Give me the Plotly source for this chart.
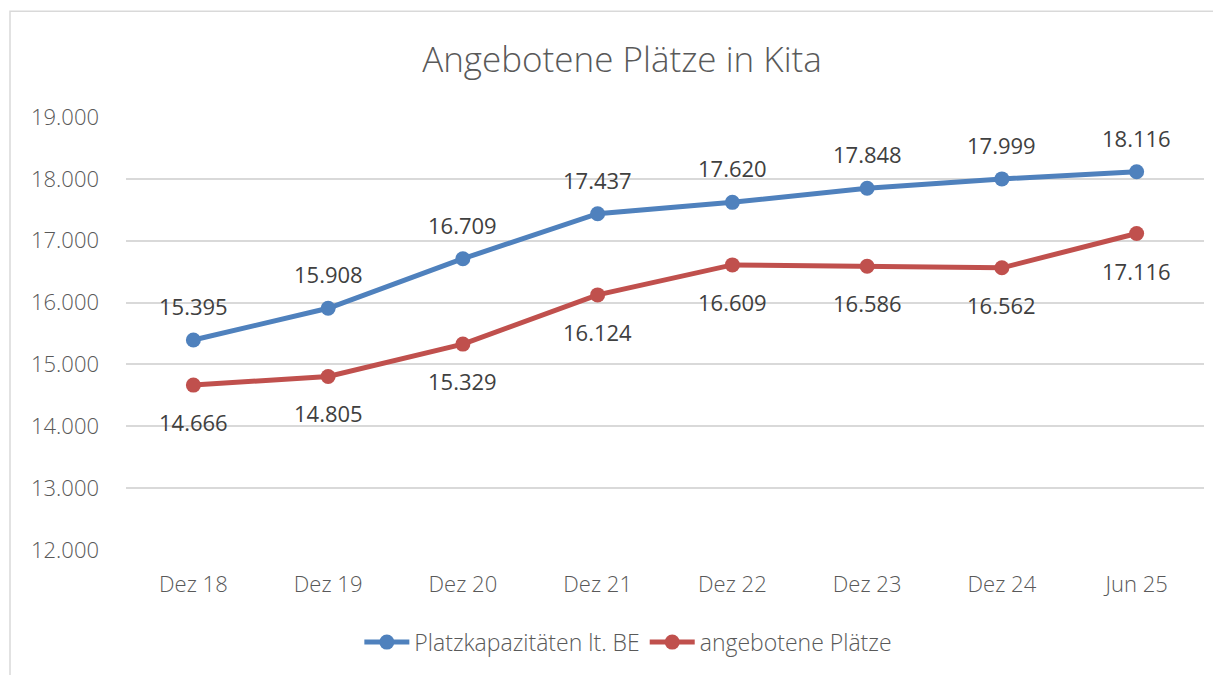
import plotly.graph_objects as go

categories = ["Dez 18", "Dez 19", "Dez 20", "Dez 21", "Dez 22", "Dez 23", "Dez 24", "Jun 25"]
kapazitaet = [15395, 15908, 16709, 17437, 17620, 17848, 17999, 18116]
angeboten = [14666, 14805, 15329, 16124, 16609, 16586, 16562, 17116]
y_ticks = [12000, 13000, 14000, 15000, 16000, 17000, 18000, 19000]

BLUE = "#4F81BD"
RED = "#C0504D"
TXT = "#595959"
LAB = "#404040"
FONT = "Open Sans, Lato, sans-serif"

W, H = 1213, 667          # page has an 8px body margin
L, T = 118, 109
PW, PH = 1078, 434

def fmt(v):
    return f"{v:,}".replace(",", ".")

fig = go.Figure()
fig.add_trace(go.Scatter(
    x=categories, y=kapazitaet, name="Platzkapazitäten lt. BE",
    mode="lines+markers", line=dict(color=BLUE, width=5),
    marker=dict(color=BLUE, size=15)))
fig.add_trace(go.Scatter(
    x=categories, y=angeboten, name="angebotene Plätze",
    mode="lines+markers", line=dict(color=RED, width=5),
    marker=dict(color=RED, size=15)))

lab_font = dict(size=22, color=LAB, family=FONT, weight=400)
annotations = []
for c, v in zip(categories, kapazitaet):
    annotations.append(dict(x=c, y=v, text=fmt(v), showarrow=False, yshift=34,
                            font=lab_font))
for c, v in zip(categories, angeboten):
    annotations.append(dict(x=c, y=v, text=fmt(v), showarrow=False, yshift=-37,
                            font=lab_font))

fig.update_layout(
    width=W, height=H,
    paper_bgcolor="white", plot_bgcolor="white",
    margin=dict(l=L, r=W - L - PW, t=T, b=H - T - PH),
    separators=",.",
    font=dict(family=FONT, color=TXT, size=22, weight=300),
    title=dict(text="Angebotene Plätze in Kita", x=(622 - 8) / W, xanchor="center",
               y=1 - 52 / H, yanchor="middle",
               font=dict(size=35, color=TXT, family=FONT, weight=300)),
    showlegend=True,
    legend=dict(orientation="h", x=0.466, xanchor="center", y=-0.21, yanchor="middle",
                font=dict(size=23, color=TXT, family=FONT, weight=300),
                itemwidth=45),
    annotations=annotations,
    shapes=[dict(type="rect", xref="paper", yref="paper",
                 x0=(2 - L) / PW, x1=1.1, y0=-0.5, y1=1 + (T - 3) / PH,
                 line=dict(color="#D9D9D9", width=1.5), fillcolor="rgba(0,0,0,0)",
                 layer="below")],
)
fig.update_xaxes(type="category", showgrid=False, showline=False, zeroline=False,
                 ticks="", ticklabelstandoff=19,
                 tickfont=dict(size=22, color=TXT, family=FONT, weight=300),
                 range=[-0.5, 7.5])
fig.update_yaxes(range=[12000, 19000], tickvals=y_ticks, tickformat=",.0f",
                 showgrid=True, gridcolor="#D9D9D9", gridwidth=1.5,
                 zeroline=False, showline=False, ticks="", ticklabelstandoff=26,
                 tickfont=dict(size=22, color=TXT, family=FONT, weight=300))

fig.write_html("out.html")
